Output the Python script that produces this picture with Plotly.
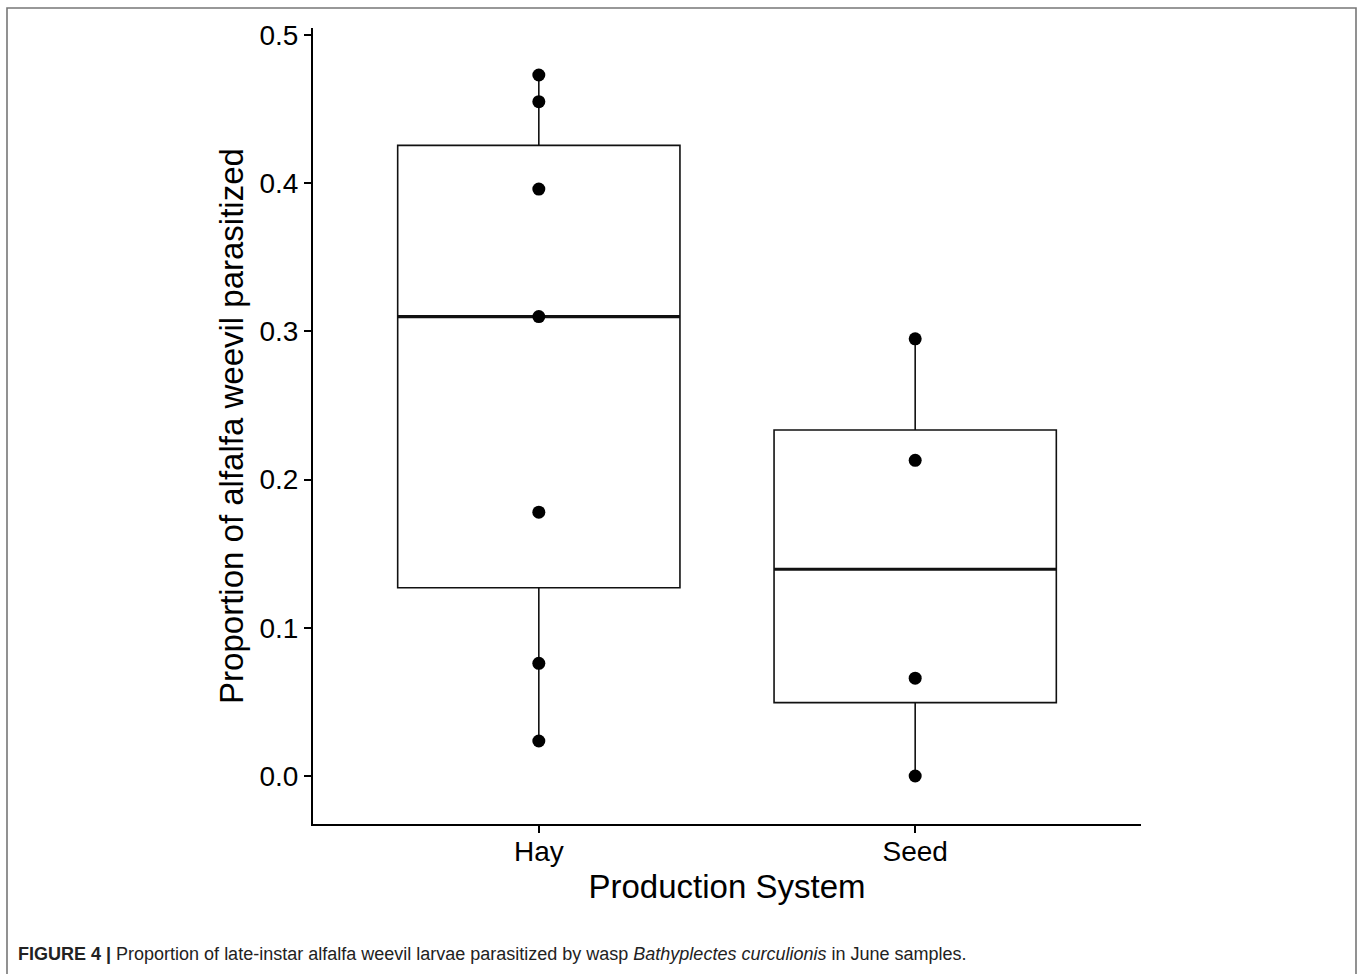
import numpy as np
import plotly.graph_objects as go

# ---- data ----
categories = ["Hay", "Seed"]
cat_pos = [1, 2]
hay_values = [0.473, 0.455, 0.396, 0.310, 0.178, 0.076, 0.0236]
seed_values = [0.295, 0.213, 0.066, 0.0]
y_tickvals = [0.0, 0.1, 0.2, 0.3, 0.4, 0.5]
y_ticktext = ["0.0", "0.1", "0.2", "0.3", "0.4", "0.5"]
series = [hay_values, seed_values]

BOX_W = 0.75
fig = go.Figure()

for pos, vals in zip(cat_pos, series):
    v = np.array(vals)
    q1, med, q3 = np.percentile(v, [25, 50, 75])
    iqr = q3 - q1
    lo = v[v >= q1 - 1.5 * iqr].min()
    hi = v[v <= q3 + 1.5 * iqr].max()
    fig.add_trace(go.Box(
        x=[pos], q1=[q1], median=[med], q3=[q3],
        lowerfence=[lo], upperfence=[hi],
        width=BOX_W, whiskerwidth=0,
        fillcolor="white", line=dict(color="#111111", width=1.6),
        boxpoints=False, hoverinfo="skip", showlegend=False,
    ))
    # thicker median line (ggplot style)
    fig.add_trace(go.Scatter(
        x=[pos - BOX_W / 2, pos + BOX_W / 2], y=[med, med],
        mode="lines", line=dict(color="#111111", width=3.2),
        hoverinfo="skip", showlegend=False,
    ))
    fig.add_trace(go.Scatter(
        x=[pos] * len(vals), y=vals, mode="markers",
        marker=dict(color="black", size=13),
        hoverinfo="skip", showlegend=False,
    ))

L, R, T, B = 313, 217, 28, 150
PW = 1358 - L - R
PH = 974 - T - B

def px_x(px):
    return (px - L) / PW

def px_y(py):
    return (974 - B - py) / PH

font_family = "Liberation Sans, Arial, sans-serif"

fig.update_layout(
    width=1358, height=974,
    margin=dict(l=L, r=R, t=T, b=B, autoexpand=False),
    paper_bgcolor="white", plot_bgcolor="white",
    font=dict(family=font_family, color="black"),
    xaxis=dict(
        range=[0.4, 2.6], tickvals=cat_pos, ticktext=categories,
        showgrid=False, zeroline=False,
        showline=True, linecolor="black", linewidth=2,
        ticks="outside", ticklen=7, tickwidth=2, tickcolor="black",
        tickfont=dict(size=28, color="black"),
        ticklabelstandoff=-6,
        title=dict(text="Production System", font=dict(size=33, color="black"), standoff=9),
        automargin=False,
    ),
    yaxis=dict(
        range=[-0.0324, 0.5047], tickvals=y_tickvals, ticktext=y_ticktext,
        showgrid=False, zeroline=False,
        showline=True, linecolor="black", linewidth=2,
        ticks="outside", ticklen=7, tickwidth=2, tickcolor="black",
        tickfont=dict(size=28, color="black"),
        title=dict(text="Proportion of alfalfa weevil parasitized",
                   font=dict(size=33, color="black"), standoff=6),
        automargin=False,
    ),
    shapes=[dict(
        type="rect", xref="paper", yref="paper",
        x0=px_x(7), x1=px_x(1356), y0=px_y(995), y1=px_y(8),
        line=dict(color="#777777", width=1.6), fillcolor="rgba(0,0,0,0)",
        layer="below",
    )],
    annotations=[dict(
        xref="paper", yref="paper", x=px_x(16), y=px_y(954),
        xanchor="left", yanchor="middle", showarrow=False,
        text="<b>FIGURE 4 |</b> Proportion of late-instar alfalfa weevil larvae parasitized by wasp "
             "<i>Bathyplectes curculionis</i> in June samples.",
        font=dict(size=18, color="#222222", family=font_family),
    )],
)

fig.write_html("out.html")
